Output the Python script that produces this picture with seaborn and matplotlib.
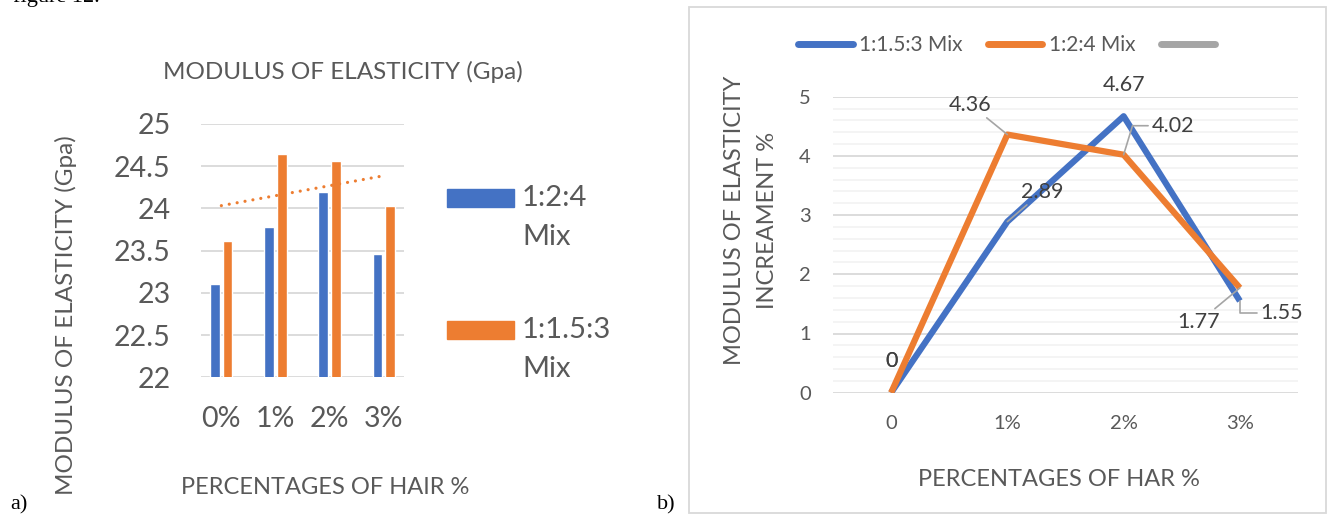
import numpy as np
import pandas as pd
import matplotlib
matplotlib.use('Agg')
from matplotlib import pyplot as plt
from matplotlib.patches import Rectangle
from matplotlib.lines import Line2D
import seaborn as sns

# a) modulus of elasticity (bars)
hair_pct = ['0%', '1%', '2%', '3%']
mix_a = ['1:2:4 Mix', '1:1.5:3 Mix']
mod_124 = [23.11, 23.78, 24.19, 23.46]
mod_1153 = [23.61, 24.64, 24.56, 24.03]

# b) modulus of elasticity increment % (lines)
har_pct = ['0', '1%', '2%', '3%']
mix_b = ['1:1.5:3 Mix', '1:2:4 Mix']
inc_1153 = [0, 2.89, 4.67, 1.55]
inc_124 = [0, 4.36, 4.02, 1.77]

blue = '#4472C4'
orange = '#ED7D31'
gray = '#A5A5A5'
txt = '#595959'
grid = '#D9D9D9'

sns.set_theme(style='white')
plt.rcParams['font.family'] = ['Lato', 'DejaVu Sans']

W, H = 1327, 518
fig = plt.figure(figsize=(W / 100, H / 100), dpi=100)


def fx(px):
    return px / W


def fy(py):
    return 1 - py / H


#%% a) bar chart
ax1 = fig.add_axes([fx(201), fy(377.3), 203 / W, 253.3 / H])
dfa = pd.DataFrame({'pct': hair_pct * 2,
                    'val': mod_124 + mod_1153,
                    'mix': [mix_a[0]] * 4 + [mix_a[1]] * 4})
sns.barplot(data=dfa, x='pct', y='val', hue='mix', palette=[blue, orange],
            width=0.47, gap=0.25, saturation=1, legend=False, ax=ax1)

# linear trendline of the orange series, like excel
coef = np.polyfit(np.arange(len(mod_1153)), mod_1153, 1)
xs = np.array([0, len(mod_1153) - 1])
ax1.plot(xs, np.polyval(coef, xs), color=orange, lw=2.3,
         ls=(0, (0.01, 2.5)), dash_capstyle='round')

ax1.set_ylim(22, 25)
yt = np.arange(22, 25.01, 0.5)
ax1.set_yticks(yt)
ax1.set_yticklabels([f'{v:g}' for v in yt])
ax1.yaxis.grid(True, color=grid, lw=1.3)
ax1.set_axisbelow(True)
sns.despine(ax=ax1, left=True, bottom=True)
ax1.tick_params(length=0, labelsize=20.5, colors=txt)
ax1.tick_params(axis='y', pad=22)
ax1.tick_params(axis='x', pad=21)
ax1.set_xlabel('')
ax1.set_ylabel('')

fig.text(fx(343), fy(72), 'MODULUS OF ELASTICITY (Gpa)', ha='center', va='center',
         fontsize=17.5, color=txt)
fig.text(fx(66), fy(315), 'MODULUS OF ELASTICITY (Gpa)', ha='center', va='center',
         rotation=90, fontsize=17.5, color=txt)
fig.text(fx(325), fy(487), 'PERCENTAGES OF HAIR %', ha='center', va='center',
         fontsize=17, color=txt)

# legend of chart a
for lab, col, y0 in zip(mix_a, [blue, orange], [198, 330]):
    fig.add_artist(Rectangle((fx(447), fy(y0 + 9)), 67 / W, 18 / H,
                             transform=fig.transFigure, color=col))
    for i, word in enumerate(lab.split()):
        fig.text(fx(522), fy(y0 + i * 39), word, ha='left', va='center',
                 fontsize=21, color=txt)

fig.text(fx(10), fy(505), 'a)', family='Liberation Serif', fontsize=16,
         ha='left', va='center', color='black')
fig.text(fx(13), fy(2), 'figure 12.', family='Liberation Serif', fontsize=16,
         ha='left', va='baseline', color='black')

#%% b) line chart
fig.add_artist(Rectangle((fx(689), fy(513)), (1326 - 689) / W, (513 - 7) / H,
                         transform=fig.transFigure, fill=False, ec=grid, lw=1.3))
fig.text(fx(657), fy(505), 'b)', family='Liberation Serif', fontsize=16,
         ha='left', va='center', color='black')

ax2 = fig.add_axes([fx(833), fy(392.7), 465 / W, 296 / H])
dfb = pd.DataFrame({'pct': har_pct * 2,
                    'val': inc_1153 + inc_124,
                    'mix': [mix_b[0]] * 4 + [mix_b[1]] * 4})
sns.lineplot(data=dfb, x='pct', y='val', hue='mix', palette=[blue, orange],
             lw=4.5, sort=False, errorbar=None, legend=False, ax=ax2,
             solid_joinstyle='round', solid_capstyle='butt')

ax2.set_xlim(-0.5, 3.5)
ax2.set_ylim(0, 5)
ax2.set_yticks(range(6))
ax2.set_yticks(np.arange(0, 5.01, 0.2), minor=True)
ax2.yaxis.grid(True, which='minor', color='#F2F2F2', lw=1.2)
ax2.yaxis.grid(True, which='major', color=grid, lw=1.3)
ax2.set_axisbelow(True)
sns.despine(ax=ax2, left=True, bottom=True)
ax2.tick_params(which='both', length=0, labelsize=14.5, colors=txt)
ax2.tick_params(axis='y', pad=16)
ax2.tick_params(axis='x', pad=16)
ax2.set_xlabel('')
ax2.set_ylabel('')

# data labels, offsets in pixels, (dx, dy, leader connection)
lab_blue = [(0, 32, None), (35, 30, 'arc3'), (0, 31, None),
            (42, -12, 'angle,angleA=0,angleB=90,rad=0')]
lab_orange = [(0, 32, None), (-37, 30, 'arc3'),
              (49, 29, 'angle,angleA=0,angleB=73,rad=0'), (-41, -34, 'arc3')]
for vals, offs in [(inc_1153, lab_blue), (inc_124, lab_orange)]:
    for i, (v, (dx, dy, conn)) in enumerate(zip(vals, offs)):
        arrow = None
        if conn is not None:
            arrow = dict(arrowstyle='-', color=gray, lw=1.2,
                         shrinkA=0, shrinkB=0, connectionstyle=conn)
        ax2.annotate(f'{v:g}', xy=(i, v), xytext=(dx * 0.72, dy * 0.72),
                     textcoords='offset points', ha='center', va='center',
                     fontsize=15.5, color='#404040', arrowprops=arrow)

handles = [Line2D([], [], color=blue, lw=5, solid_capstyle='round'),
           Line2D([], [], color=orange, lw=5, solid_capstyle='round'),
           Line2D([], [], color=gray, lw=5, solid_capstyle='round')]
fig.legend(handles, mix_b + [''], loc='center', ncol=3,
           bbox_to_anchor=(fx(1010), fy(45)), frameon=False,
           fontsize=15, labelcolor=txt, handlelength=2.6,
           handletextpad=0.3, columnspacing=1.25)

fig.text(fx(1059), fy(479), 'PERCENTAGES OF HAR %', ha='center', va='center',
         fontsize=17, color=txt)
fig.text(fx(735), fy(220), 'MODULUS OF ELASTICITY', ha='center', va='center',
         rotation=90, fontsize=17, color=txt)
fig.text(fx(768), fy(220), 'INCREAMENT %', ha='center', va='center',
         rotation=90, fontsize=17, color=txt)

fig.savefig('out.png', dpi=100)
